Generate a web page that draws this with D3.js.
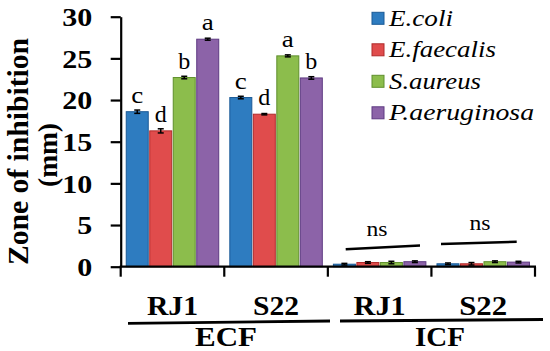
<!DOCTYPE html>
<html>
<head>
<meta charset="utf-8">
<script src="https://cdn.jsdelivr.net/npm/d3@7"></script>
<style>
  html, body { margin: 0; padding: 0; background: #fff; }
  svg { display: block; }
</style>
</head>
<body>
<svg id="chart" width="550" height="351"></svg>
<script>
// ---- data ----
const groupIds = ["ECF-RJ1", "ECF-S22", "ICF-RJ1", "ICF-S22"];
const groupLabels = ["RJ1", "S22", "RJ1", "S22"];
const fractions = ["ECF", "ICF"];
const seriesNames = ["E.coli", "E.faecalis", "S.aureus", "P.aeruginosa"];
const ecoli = [18.6, 20.3, 0.3, 0.35];
const efaecalis = [16.3, 18.3, 0.5, 0.35];
const saureus = [22.7, 25.3, 0.5, 0.6];
const paeruginosa = [27.3, 22.65, 0.6, 0.55];
const ecoliErr = [0.2, 0.15, 0.1, 0.1];
const efaecalisErr = [0.25, 0.08, 0.1, 0.15];
const saureusErr = [0.15, 0.12, 0.15, 0.1];
const paeruginosaErr = [0.12, 0.15, 0.1, 0.1];
const ecoliSig = ["c", "c", "", ""];
const efaecalisSig = ["d", "d", "", ""];
const saureusSig = ["b", "a", "", ""];
const paeruginosaSig = ["a", "b", "", ""];
const yTicks = [0, 5, 10, 15, 20, 25, 30];

// pick an installed serif face if any
function hasFont(f) {
  const c = document.createElement("canvas").getContext("2d");
  const s = "abcdefghijklmnopqrstuvwxyzABCDEFGHIJKLM0123456789";
  let diff = false;
  ["monospace", "sans-serif"].forEach(base => {
    c.font = `40px ${base}`; const a = c.measureText(s).width;
    c.font = `40px '${f}', ${base}`; const b = c.measureText(s).width;
    if (a !== b) diff = true;
  });
  return diff;
}
const candidates = ["Liberation Serif", "Tinos", "Times New Roman", "DejaVu Serif", "Noto Serif", "FreeSerif", "Nimbus Roman", "Nimbus Roman No9 L", "Georgia"];
const found = candidates.find(hasFont);
const FONT = found ? `'${found}', serif` : "'Liberation Sans', Arial, sans-serif";

const seriesValues = [ecoli, efaecalis, saureus, paeruginosa];
const seriesErrs = [ecoliErr, efaecalisErr, saureusErr, paeruginosaErr];
const seriesSig = [ecoliSig, efaecalisSig, saureusSig, paeruginosaSig];
const fills = ["#2e7cc0", "#e04c4c", "#8cbd4c", "#8c63a8"];
const strokes = ["#1b5a96", "#b02a2a", "#5f8f2c", "#5e3a82"];

const svg = d3.select("#chart").style("font-family", FONT);
const x0 = 120.7, x1 = 535, yTop = 16.7, yBot = 266.7;

const y = d3.scaleLinear().domain([0, 30]).range([yBot, yTop]);
const xg = d3.scaleBand().domain(groupIds).range([x0, x1]).paddingInner(0).paddingOuter(0);
const xs = d3.scaleBand().domain(seriesNames).range([0, xg.bandwidth()])
  .paddingInner(0.064).paddingOuter(0.236);

// bars
const rows = [];
groupIds.forEach((g, gi) => {
  seriesNames.forEach((s, si) => {
    rows.push({g, s, si, v: seriesValues[si][gi], e: seriesErrs[si][gi], sig: seriesSig[si][gi]});
  });
});

svg.append("g").selectAll("rect").data(rows).join("rect")
  .attr("x", d => xg(d.g) + xs(d.s))
  .attr("y", d => y(d.v))
  .attr("width", xs.bandwidth())
  .attr("height", d => y(0) - y(d.v))
  .attr("fill", d => fills[d.si])
  .attr("stroke", d => strokes[d.si])
  .attr("stroke-width", 1);

// error bars
const errG = svg.append("g").attr("stroke", "#000").attr("stroke-width", 1.5);
rows.forEach(d => {
  const cx = xg(d.g) + xs(d.s) + xs.bandwidth() / 2;
  errG.append("line").attr("x1", cx).attr("x2", cx).attr("y1", y(d.v + d.e)).attr("y2", y(d.v - d.e));
  errG.append("line").attr("x1", cx - 3).attr("x2", cx + 3).attr("y1", y(d.v + d.e)).attr("y2", y(d.v + d.e));
  errG.append("line").attr("x1", cx - 3).attr("x2", cx + 3).attr("y1", y(d.v - d.e)).attr("y2", y(d.v - d.e));
});

function txt(sel, width) {
  sel.style("font-family", FONT).attr("fill", "#000");
  if (width) sel.attr("textLength", width).attr("lengthAdjust", "spacingAndGlyphs");
  return sel;
}

// significance letters
txt(svg.append("g").selectAll("text").data(rows.filter(d => d.sig)).join("text"), 12)
  .attr("x", d => xg(d.g) + xs(d.s) + xs.bandwidth() / 2)
  .attr("y", d => y(d.v) - 9)
  .attr("text-anchor", "middle")
  .attr("font-size", 24)
  .text(d => d.sig);

// ns annotations
const nsItems = [
  {lx1: 345.7, ly1: 249.3, lx2: 420, ly2: 245.5, tx: 377, ty: 236},
  {lx1: 441, ly1: 244, lx2: 516.7, ly2: 241.7, tx: 480, ty: 230}
];
nsItems.forEach(n => {
  svg.append("line").attr("x1", n.lx1).attr("y1", n.ly1).attr("x2", n.lx2).attr("y2", n.ly2)
    .attr("stroke", "#000").attr("stroke-width", 2.5);
  txt(svg.append("text"), 21).attr("x", n.tx).attr("y", n.ty)
    .attr("text-anchor", "middle").attr("font-size", 22).text("ns");
});

// y axis
const yAxis = d3.axisLeft(y).tickValues(yTicks).tickSize(10).tickPadding(18.5).tickSizeOuter(0);
const yAx = svg.append("g").attr("transform", `translate(${x0},0)`).call(yAxis);
yAx.select(".domain").attr("stroke", "#000").attr("stroke-width", 2.2);
yAx.selectAll(".tick line").attr("stroke", "#000").attr("stroke-width", 2.2);
yAx.selectAll(".tick text").each(function(d) {
  txt(d3.select(this), 15 * String(d).length)
    .attr("font-weight", "bold").attr("font-size", 26).attr("dy", "0.34em");
});

// x axis with ticks at group boundaries
const boundaries = [x0].concat(groupIds.map(g => xg(g) + xg.bandwidth()));
const xAx = svg.append("g");
xAx.append("line").attr("x1", x0 - 1).attr("x2", x1 + 1).attr("y1", yBot).attr("y2", yBot)
  .attr("stroke", "#000").attr("stroke-width", 2.2);
xAx.selectAll("line.tk").data(boundaries).join("line").attr("class", "tk")
  .attr("x1", d => d).attr("x2", d => d).attr("y1", yBot).attr("y2", yBot + 10)
  .attr("stroke", "#000").attr("stroke-width", 2.2);

// group labels
const groupLabelWidths = [51, 46, 52, 48];
groupIds.forEach((g, i) => {
  txt(svg.append("text"), groupLabelWidths[i])
    .attr("x", xg(g) + xg.bandwidth() / 2).attr("y", 315)
    .attr("text-anchor", "middle").attr("font-weight", "bold").attr("font-size", 27)
    .text(groupLabels[i]);
});

// fraction lines and labels
const fracInfo = [
  {lx1: 128, ly1: 323.3, lx2: 330, ly2: 321, cx: 226, w: 62},
  {lx1: 340, ly1: 321, lx2: 543, ly2: 319.5, cx: 440, w: 50}
];
fractions.forEach((f, i) => {
  const fi = fracInfo[i];
  svg.append("line").attr("x1", fi.lx1).attr("y1", fi.ly1).attr("x2", fi.lx2).attr("y2", fi.ly2)
    .attr("stroke", "#000").attr("stroke-width", 2.8);
  txt(svg.append("text"), fi.w).attr("x", fi.cx).attr("y", 346)
    .attr("text-anchor", "middle").attr("font-weight", "bold").attr("font-size", 27).text(f);
});

// y title
txt(svg.append("text"), 227).attr("transform", "translate(28,151.5) rotate(-90)")
  .attr("text-anchor", "middle").attr("font-weight", "bold").attr("font-size", 30)
  .text("Zone of inhibition");
txt(svg.append("text"), 64).attr("transform", "translate(57,155) rotate(-90)")
  .attr("text-anchor", "middle").attr("font-weight", "bold").attr("font-size", 28)
  .text("(mm)");

// legend
const legendWidths = [64, 107, 92, 145];
const lg = svg.append("g");
seriesNames.forEach((s, i) => {
  const cy = 18.3 + i * 31.5;
  lg.append("rect").attr("x", 372).attr("y", cy - 6).attr("width", 12).attr("height", 12)
    .attr("fill", fills[i]).attr("stroke", strokes[i]).attr("stroke-width", 1);
  txt(lg.append("text"), legendWidths[i]).attr("x", 389).attr("y", cy + 7.5)
    .attr("font-style", "italic").attr("font-size", 23).text(s);
});
</script>
</body>
</html>
